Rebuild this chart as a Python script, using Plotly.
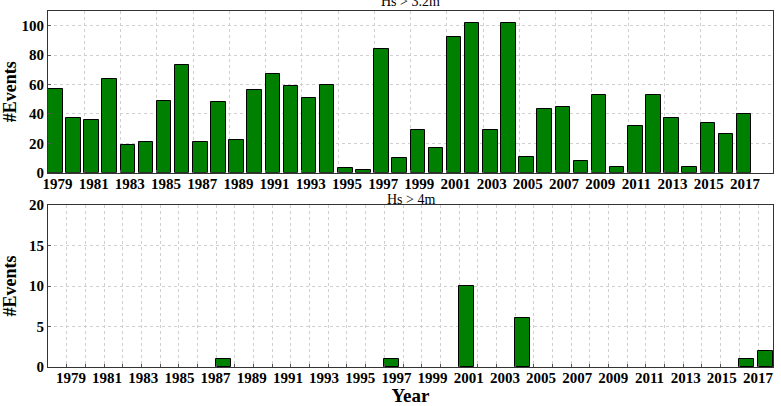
import plotly.graph_objects as go

years = list(range(1979, 2018))
events_32 = [57, 37, 36, 64, 19, 21, 49, 73, 21, 48, 22, 56, 67, 59, 51, 60, 3, 2, 84,
             10, 29, 17, 92, 102, 29, 102, 11, 43, 45, 8, 53, 4, 32, 53, 37, 4, 34, 26, 40]
events_4 = [0, 0, 0, 0, 0, 0, 0, 0, 0, 1, 0, 0, 0, 0, 0, 0, 0, 0, 1,
            0, 0, 0, 10, 0, 0, 6, 0, 0, 0, 0, 0, 0, 0, 0, 0, 0, 0, 1, 2]
tick_years = list(range(1979, 2018, 2))
titles = ["Hs > 3.2m", "Hs > 4m"]

FONT = "Liberation Serif"
GREEN = "#008000"
GRID = "#cfcfcf"


def edge_widths(vals):
    return [1 if v > 0 else 0 for v in vals]


fig = go.Figure()
fig.add_trace(go.Bar(x=years, y=events_32, offset=0, width=0.8, marker_color=GREEN,
                     marker_line=dict(color="black", width=edge_widths(events_32)),
                     xaxis="x", yaxis="y", showlegend=False))
fig.add_trace(go.Bar(x=years, y=events_4, offset=0, width=0.8, marker_color=GREEN,
                     marker_line=dict(color="black", width=edge_widths(events_4)),
                     xaxis="x2", yaxis="y2", showlegend=False))
# helper traces so the label axes are drawn
fig.add_trace(go.Scatter(x=[], y=[], xaxis="x3", yaxis="y", showlegend=False, hoverinfo="skip"))
fig.add_trace(go.Scatter(x=[], y=[], xaxis="x4", yaxis="y2", showlegend=False, hoverinfo="skip"))

H = 406.0
dom_top = [1 - 172.7 / H, 1 - 11 / H]
dom_bot = [1 - 367 / H, 1 - 205 / H]

tickfont = dict(family=FONT, size=15, color="black", weight="bold")
frame = dict(showline=True, linecolor="#333", linewidth=1, mirror=True, zeroline=False,
             automargin=False)

fig.update_layout(
    width=781, height=406,
    margin=dict(l=48, r=8, t=0, b=0, autoexpand=False),
    paper_bgcolor="white", plot_bgcolor="white",
    bargap=0,
    font=dict(family=FONT, color="black"),
    xaxis=dict(range=[1979, 2019], domain=[0, 1], anchor="y", showticklabels=False,
               tick0=1979, dtick=2, showgrid=True, gridcolor=GRID, griddash="dot",
               ticks="inside", ticklen=3, tickcolor="#555", **frame),
    yaxis=dict(range=[0, 110], domain=dom_top, anchor="x", tickvals=[0, 20, 40, 60, 80, 100],
               showgrid=True, gridcolor=GRID, griddash="dot", tickfont=tickfont,
               ticks="inside", ticklen=3, tickcolor="#555",
               title=dict(text="#Events", font=dict(family=FONT, size=18, weight="bold"), standoff=6),
               **frame),
    xaxis3=dict(range=[1978.475, 2018.55], overlaying="x", anchor="y", side="bottom",
                tickvals=tick_years, ticktext=[str(t) for t in tick_years], tickfont=tickfont,
                showgrid=False, showline=False, zeroline=False, ticks="", ticklen=0,
                automargin=False),
    xaxis2=dict(range=[1979, 2017.8], domain=[0, 1], anchor="y2", showticklabels=False,
                tick0=1979, dtick=1, showgrid=True, gridcolor=GRID, griddash="dot",
                ticks="inside", ticklen=3, tickcolor="#555", **frame),
    yaxis2=dict(range=[0, 20], domain=dom_bot, anchor="x2", tickvals=[0, 5, 10, 15, 20],
                showgrid=True, gridcolor=GRID, griddash="dot", tickfont=tickfont,
                ticks="inside", ticklen=3, tickcolor="#555",
                title=dict(text="#Events", font=dict(family=FONT, size=18, weight="bold"), standoff=14),
                **frame),
    xaxis4=dict(range=[1977.73, 2017.83], overlaying="x2", anchor="y2", side="bottom",
                tickvals=tick_years, ticktext=[str(t) for t in tick_years], tickfont=tickfont,
                showgrid=False, showline=False, zeroline=False, ticks="", ticklen=0,
                automargin=False,
                title=dict(text="Year", font=dict(family=FONT, size=19, weight="bold"), standoff=2)),
    annotations=[
        dict(text=titles[0], xref="x domain", yref="y domain", x=0.5, y=1, yanchor="bottom",
             showarrow=False, font=dict(family=FONT, size=14, color="black"), yshift=0),
        dict(text=titles[1], xref="x2 domain", yref="y2 domain", x=0.5, y=1, yanchor="bottom",
             showarrow=False, font=dict(family=FONT, size=14, color="black"), yshift=-4),
    ],
)

fig.write_html("out.html")
